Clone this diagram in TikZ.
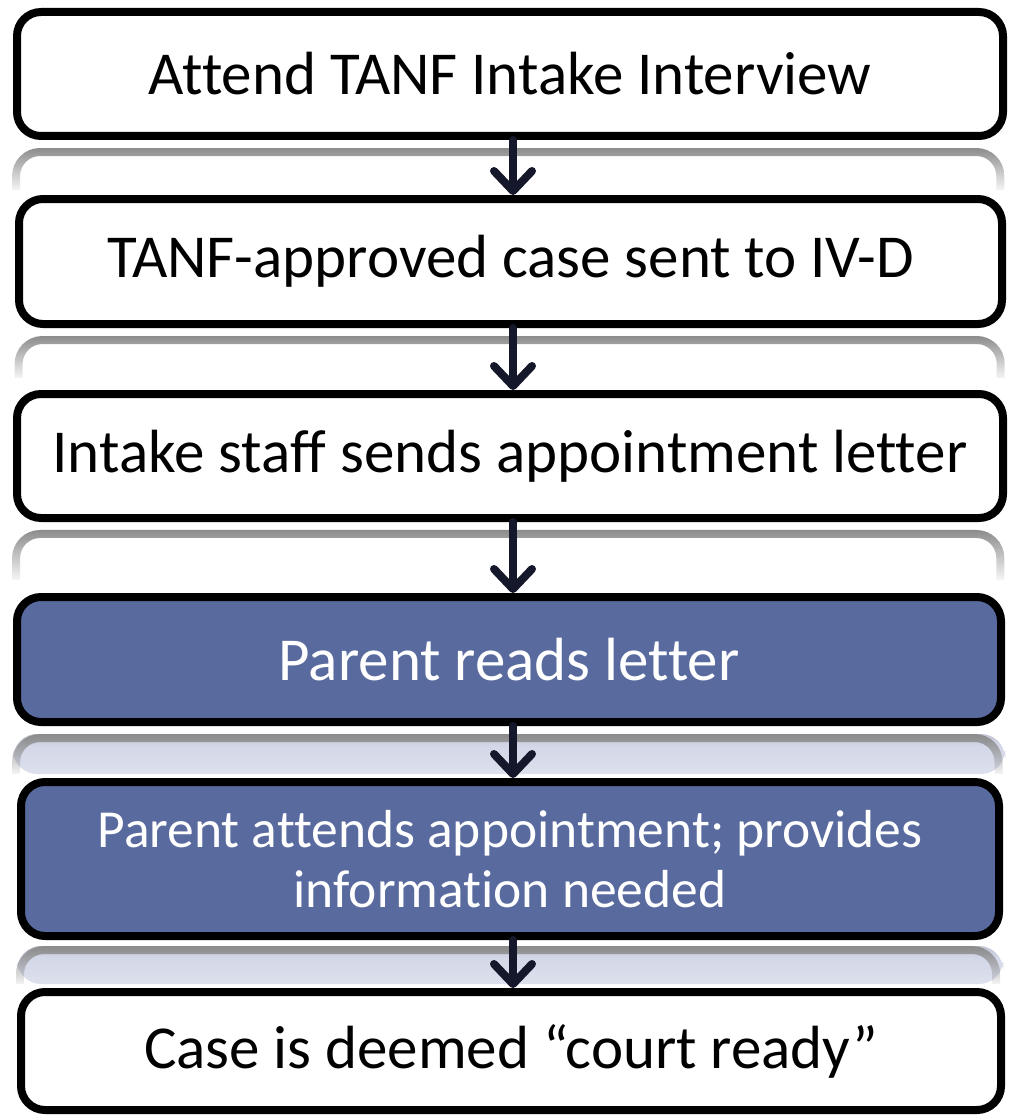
\documentclass[tikz,border=0pt]{standalone}
\usepackage{fontspec}
\setmainfont{Carlito}[Ligatures={NoCommon}]
\usetikzlibrary{arrows.meta,fadings,calc}
\definecolor{boxblue}{HTML}{596A9F}
\definecolor{arrowc}{HTML}{15172A}
\definecolor{reflblue}{HTML}{D3D7E7}
\pgfdeclareverticalshading{reflb}{100bp}{color(0bp)=(reflblue!60!white); color(60bp)=(reflblue); color(85bp)=(reflblue!85!black); color(100bp)=(black!45)}
\begin{document}
\begin{tikzpicture}[x=1pt,y=-1pt,
  flowbox/.style={draw=black, line width=8pt, rounded corners=24pt, fill=white,
    inner sep=0pt, align=center, text=black, font=\fontsize{61}{72}\selectfont},
  bluebox/.style={flowbox, fill=boxblue, text=white},
  reflline/.style={draw=black!45, line width=8pt, rounded corners=24pt, path fading=south},
  reflfill/.style={shading=reflb, rounded corners=24pt},
  arr/.style={draw=arrowc, line width=8pt, line cap=round,
    -{Straight Barb[length=20pt, width=38pt, round]}}
]
\useasboundingbox (0,0) rectangle (1010,1118);

% reflections (drawn first)
\path[reflline] (17,190) -- (17,152) -- (1003,152) -- (1003,190);
\path[reflline] (19,378) -- (19,340) -- (1002,340) -- (1002,378);
\path[reflline] (17,580) -- (17,534) -- (1003,534) -- (1003,580);
\path[reflfill] (13,774) -- (13,734) -- (1005,734) -- (1005,774) -- cycle;
\path[reflline] (17,774) -- (17,738) -- (1001,738) -- (1001,774);
\path[reflfill] (17,984) -- (17,946) -- (1003,946) -- (1003,984) -- cycle;
\path[reflline] (21,984) -- (21,950) -- (999,950) -- (999,984);

% boxes
\node[flowbox, minimum width=986pt, minimum height=124pt] (b1) at (510,74)
  {Attend TANF Intake Interview};
\node[flowbox, minimum width=983pt, minimum height=125pt] (b2) at (510.5,261.5)
  {TANF-approved case sent to IV-D};
\node[flowbox, minimum width=986pt, minimum height=124pt] (b3) at (510,456)
  {Intake staff sends appointment letter};
\node[bluebox, minimum width=984pt, minimum height=125pt] (b4) at (509,659.5)
  {Parent reads letter};
\node[bluebox, minimum width=978pt, minimum height=154pt,
  font=\fontsize{53.5}{60}\selectfont] (b5) at (510,859)
  {Parent attends appointment; provides\\information needed};
\node[flowbox, minimum width=980pt, minimum height=118pt] (b6) at (511,1051)
  {Case is deemed “court ready”};

% arrows
\draw[arr] ($(b1.south)+(3,0)$) -- ($(b1.south |- b2.north)+(3,0)$);
\draw[arr] ($(b2.south)+(2.5,0)$) -- ($(b2.south |- b3.north)+(2.5,0)$);
\draw[arr] ($(b3.south)+(3,0)$) -- ($(b3.south |- b4.north)+(3,0)$);
\draw[arr] ($(b4.south)+(4,0)$) -- ($(b4.south |- b5.north)+(4,0)$);
\draw[arr] ($(b5.south)+(3,0)$) -- ($(b5.south |- b6.north)+(3,0)$);
\end{tikzpicture}
\end{document}
